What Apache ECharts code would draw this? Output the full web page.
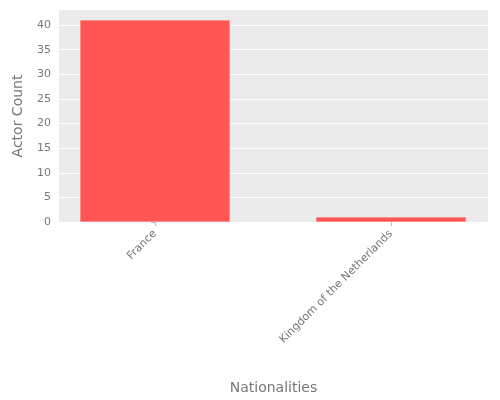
<!DOCTYPE html>
<html><head><meta charset="utf-8">
<script src="https://cdn.jsdelivr.net/npm/echarts@6/dist/echarts.min.js"></script>
<style>html,body{margin:0;padding:0;background:#fff}#c{width:500px;height:400px}</style>
</head><body><div id="c"></div>
<script>
const categories = ["France", "Kingdom of the Netherlands"];
const actorCounts = [41, 1];
const yTicks = [0, 5, 10, 15, 20, 25, 30, 35, 40];

const chart = echarts.init(document.getElementById('c'));
const font = 'DejaVu Sans';
chart.setOption({
  animation: false,
  grid: {left: 59, right: 12, top: 10, bottom: 174, backgroundColor: '#ebebeb', show: true, borderWidth: 0},
  xAxis: {
    type: 'value', min: -0.407, max: 1.411,
    name: 'Nationalities', nameLocation: 'middle', nameGap: 159,
    nameTextStyle: {fontFamily: font, fontSize: 14, color: '#777'},
    axisLine: {show: false}, splitLine: {show: false},
    axisTick: {show: true, customValues: [0, 1], length: 4, lineStyle: {color: '#bbb'}},
    axisLabel: {customValues: [0, 1], rotate: 45, margin: 10, fontFamily: font, fontSize: 11, color: '#777',
      formatter: v => categories[Math.round(v)] || ''}
  },
  yAxis: {
    type: 'value', min: 0, max: 43.05, interval: 5,
    name: 'Actor Count', nameLocation: 'middle', nameGap: 34,
    nameTextStyle: {fontFamily: font, fontSize: 14, color: '#777'},
    axisLine: {show: false},
    axisTick: {show: true, length: 4, lineStyle: {color: '#bbb'}, customValues: yTicks},
    axisLabel: {customValues: yTicks, fontFamily: font, fontSize: 11, color: '#777', margin: 8},
    splitLine: {lineStyle: {color: '#fff', width: 1}}
  },
  series: [{
    type: 'bar', barWidth: 150,
    data: actorCounts.map((v, i) => [i, v]),
    itemStyle: {color: '#ff5555', borderColor: '#ff8888', borderWidth: 1}
  }]
});
</script></body></html>
